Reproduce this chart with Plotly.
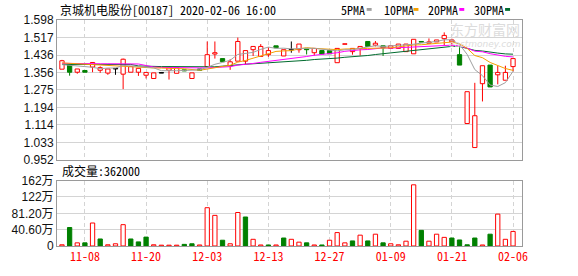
import plotly.graph_objects as go

# ---------------- data ----------------
tick_idx = [3, 11, 19, 27, 35, 43, 51, 59]
tick_labels = ["11-08", "11-20", "12-03", "12-13", "12-27", "01-09", "01-21", "02-06"]

opens = [1.371, 1.394, 1.357, 1.365, 1.381, 1.366, 1.353, 1.372, 1.348, 1.357,
         1.357, 1.343, 1.328, 1.353, 1.366, 1.352, 1.368, 1.328, 1.372, 1.383,
         1.441, 1.420, 1.387, 1.408, 1.408, 1.461, 1.430, 1.438, 1.479, 1.432,
         1.460, 1.461, 1.464, 1.447, 1.457, 1.457, 1.401, 1.486, 1.452, 1.467,
         1.499, 1.482, 1.479, 1.467, 1.467, 1.452, 1.442, 1.499, 1.491, 1.497,
         1.512, 1.497, 1.438, 1.120, 1.009, 1.304, 1.390, 1.345, 1.320, 1.383]
highs = [1.414, 1.396, 1.372, 1.365, 1.402, 1.384, 1.372, 1.372, 1.420, 1.383,
         1.375, 1.356, 1.354, 1.353, 1.383, 1.378, 1.368, 1.354, 1.372, 1.499,
         1.499, 1.420, 1.417, 1.517, 1.457, 1.476, 1.487, 1.472, 1.479, 1.461,
         1.499, 1.487, 1.464, 1.467, 1.457, 1.457, 1.467, 1.487, 1.467, 1.476,
         1.499, 1.501, 1.479, 1.479, 1.487, 1.487, 1.509, 1.499, 1.513, 1.506,
         1.541, 1.512, 1.472, 1.267, 1.308, 1.387, 1.390, 1.387, 1.387, 1.420]
lows = [1.371, 1.341, 1.350, 1.357, 1.357, 1.354, 1.345, 1.345, 1.279, 1.357,
        1.340, 1.328, 1.328, 1.353, 1.323, 1.352, 1.363, 1.328, 1.366, 1.383,
        1.420, 1.406, 1.368, 1.408, 1.393, 1.432, 1.430, 1.428, 1.470, 1.432,
        1.447, 1.447, 1.439, 1.434, 1.441, 1.442, 1.401, 1.486, 1.438, 1.434,
        1.476, 1.476, 1.432, 1.467, 1.467, 1.452, 1.442, 1.496, 1.491, 1.497,
        1.482, 1.476, 1.390, 1.120, 1.009, 1.222, 1.289, 1.301, 1.320, 1.361]
closes = [1.410, 1.357, 1.372, 1.357, 1.402, 1.378, 1.372, 1.372, 1.417, 1.383,
          1.375, 1.356, 1.354, 1.353, 1.378, 1.378, 1.363, 1.354, 1.366, 1.438,
          1.447, 1.406, 1.405, 1.499, 1.457, 1.476, 1.476, 1.457, 1.470, 1.461,
          1.460, 1.487, 1.461, 1.467, 1.441, 1.442, 1.467, 1.487, 1.467, 1.476,
          1.476, 1.491, 1.470, 1.479, 1.487, 1.487, 1.509, 1.496, 1.497, 1.506,
          1.527, 1.506, 1.390, 1.267, 1.156, 1.387, 1.289, 1.356, 1.356, 1.420]
volumes = [30000, 459000, 78000, 78000, 571000, 174000, 30000, 55000, 530000, 174000,
           102000, 221000, 30000, 20000, 20000, 20000, 40000, 55000, 25000, 951000,
           761000, 143000, 55000, 832000, 720000, 166000, 25000, 25000, 25000, 198000,
           166000, 95000, 78000, 25000, 25000, 143000, 333000, 78000, 126000, 269000,
           126000, 293000, 78000, 55000, 30000, 119000, 1520000, 388000, 119000, 293000,
           214000, 198000, 150000, 30000, 198000, 25000, 293000, 792000, 166000, 362000]
vol_up = [1, 0, 1, 0, 1, 0, 1, 1, 1, 0,
          0, 0, 1, 1, 1, 1, 0, 0, 1, 1,
          1, 0, 1, 1, 0, 1, 1, 0, 1, 0,
          1, 1, 0, 1, 0, 1, 1, 1, 0, 1,
          0, 1, 0, 1, 1, 1, 1, 0, 1, 1,
          1, 0, 0, 0, 0, 1, 0, 1, 1, 1]
# moving-average values before a full window is available inside the chart
ma5_head = [1.392, 1.390, 1.387, 1.383]
ma10_head = [1.400, 1.398, 1.395, 1.392, 1.390, 1.388, 1.386, 1.384, 1.383]
ma20_head = [1.398, 1.397, 1.397, 1.396, 1.396, 1.396, 1.396, 1.396, 1.396, 1.396,
             1.395, 1.388, 1.381, 1.379, 1.378, 1.378, 1.377, 1.377, 1.377]
ma30_head = [1.393, 1.393, 1.393, 1.393, 1.393, 1.393, 1.393, 1.393, 1.393, 1.393,
             1.386, 1.384, 1.384, 1.383, 1.383, 1.383, 1.382, 1.382, 1.382, 1.381,
             1.382, 1.385, 1.389, 1.392, 1.394, 1.396, 1.398, 1.400, 1.402]
price_ticks = [0.952, 1.033, 1.114, 1.194, 1.275, 1.356, 1.436, 1.517, 1.598]
vol_ticks = [0, 406000, 812000, 1218000, 1624000]
vol_tick_labels = ["0", "40.60万", "81.20万", "122万", "162万"]

# ---------------- styling / geometry ----------------
RED, GREEN, BLACK = "#ff0000", "#008000", "#000000"
MA_COLORS = {"5PMA": "#a0a0a0", "10PMA": "#f5a000", "20PMA": "#ff00ff", "30PMA": "#006b2e"}
MONO = "Noto Sans Mono CJK SC, Noto Sans CJK SC, DejaVu Sans Mono, monospace"
SANS = "Liberation Sans, Arial, Noto Sans CJK SC, sans-serif"
GRID = "#d4d4d4"
FRAME = "#9a9a9a"

PL, PR, PT, PB = 55, 522, 20, 255
def fx(x):
    return (x - PL) / (PR - PL)
def fy(y):
    return (PB - y) / (PB - PT)

n = len(closes)
idx = list(range(n))


def ma(period, head):
    out = list(head)
    for i in range(len(head), n):
        w = closes[i - period + 1:i + 1]
        out.append(sum(w) / period)
    return out

mas = {"5PMA": ma(5, ma5_head), "10PMA": ma(10, ma10_head),
       "20PMA": ma(20, ma20_head), "30PMA": ma(30, ma30_head)}

fig = go.Figure()

# candle bodies
body_base, body_h, fills, lines = [], [], [], []
for o, c in zip(opens, closes):
    lo, hi = min(o, c), max(o, c)
    body_base.append(lo)
    body_h.append(max(hi - lo, 0.0025))
    if c > o:
        fills.append("white"); lines.append(RED)
    elif c < o:
        fills.append(GREEN); lines.append(GREEN)
    else:
        fills.append(BLACK); lines.append(BLACK)

fig.add_trace(go.Bar(x=idx, y=body_h, base=body_base, width=0.56,
                     marker=dict(color=fills, line=dict(color=lines, width=1)),
                     xaxis="x", yaxis="y", hoverinfo="skip"))

# volume bars
vfill = ["white" if u else GREEN for u in vol_up]
vline = [RED if u else GREEN for u in vol_up]
fig.add_trace(go.Bar(x=idx, y=volumes, width=0.56,
                     marker=dict(color=vfill, line=dict(color=vline, width=1)),
                     xaxis="x2", yaxis="y2", hoverinfo="skip"))

# wicks (outside the bodies)
for col in (RED, GREEN, BLACK):
    wx, wy = [], []
    for i in idx:
        if lines[i] != col:
            continue
        top = max(opens[i], closes[i])
        bot = min(opens[i], closes[i])
        if highs[i] > top:
            wx += [i, i, None]; wy += [highs[i], top, None]
        if lows[i] < bot:
            wx += [i, i, None]; wy += [bot, lows[i], None]
    fig.add_trace(go.Scatter(x=wx, y=wy, mode="lines", line=dict(color=col, width=1),
                             xaxis="x", yaxis="y", hoverinfo="skip"))

# moving averages
for name in ["30PMA", "20PMA", "10PMA", "5PMA"]:
    fig.add_trace(go.Scatter(x=idx, y=mas[name], mode="lines",
                             line=dict(color=MA_COLORS[name], width=1),
                             xaxis="x", yaxis="y", hoverinfo="skip"))

xr = [-(60 - PL) / 7.678, 59 + (PR - 513) / 7.678]
common_x = dict(range=xr, tickmode="array", tickvals=tick_idx, ticktext=tick_labels,
                showgrid=True, gridcolor=GRID, griddash="4px,3px", gridwidth=1,
                showline=True, linecolor=FRAME, linewidth=1, mirror=True,
                ticks="", zeroline=False, fixedrange=True)
common_y = dict(showgrid=True, gridcolor=GRID, gridwidth=1, showline=True,
                linecolor=FRAME, linewidth=1, mirror=True, ticks="", zeroline=False,
                tickfont=dict(family=SANS, size=12, color="#111"), fixedrange=True)

fig.update_layout(
    width=578, height=276,
    margin=dict(l=PL, r=578 - PR, t=PT, b=276 - PB, pad=0),
    paper_bgcolor="white", plot_bgcolor="white",
    showlegend=False, barmode="overlay",
    xaxis=dict(domain=[0, 1], anchor="y", showticklabels=False, **common_x),
    yaxis=dict(domain=[fy(165.5), 1], anchor="x", range=[0.9518, 1.5982],
               tickmode="array", tickvals=price_ticks,
               ticktext=["%.3f" % v for v in price_ticks], **common_y),
    xaxis2=dict(domain=[0, 1], anchor="y2", matches="x", showticklabels=True,
                tickfont=dict(family=MONO, size=12, color=RED), **common_x),
    yaxis2=dict(domain=[0, fy(187)], anchor="x2", range=[-300, 1624800],
                tickmode="array", tickvals=vol_ticks, ticktext=vol_tick_labels, **common_y),
)

ann = []
# title
ann.append(dict(text="京城机电股份[00187] 2020-02-06 16:00", x=fx(56), y=fy(9),
                xref="paper", yref="paper", xanchor="left", yanchor="middle",
                showarrow=False, font=dict(family=MONO, size=12, color="#000")))
# legend
shapes = []
leg_pos = [("5PMA", 338, 366), ("10PMA", 381, 413), ("20PMA", 426, 459), ("30PMA", 472, 505)]
for name, tx, sx in leg_pos:
    ann.append(dict(text=name, x=fx(tx), y=fy(9), xref="paper", yref="paper",
                    xanchor="left", yanchor="middle", showarrow=False,
                    font=dict(family=MONO, size=12, color="#000")))
    shapes.append(dict(type="rect", xref="paper", yref="paper",
                       x0=fx(sx), x1=fx(sx + 5), y0=fy(10.5), y1=fy(7.5),
                       fillcolor=MA_COLORS[name], line=dict(width=0)))
# volume caption
ann.append(dict(text="成交量:362000", x=fx(58), y=fy(177), xref="paper", yref="paper",
                xanchor="left", yanchor="middle", showarrow=False,
                font=dict(family=MONO, size=12, color="#000")))
# watermark
ann.append(dict(text="东方财富网", x=fx(522), y=fy(29), xref="paper", yref="paper",
                xanchor="right", yanchor="middle", showarrow=False,
                font=dict(family="Noto Sans CJK SC", size=14, color="#dcdcdc")))
ann.append(dict(text="<i>eastmoney.com</i>", x=fx(523), y=fy(44.5), xref="paper", yref="paper",
                xanchor="right", yanchor="middle", showarrow=False,
                font=dict(family="DejaVu Sans", size=9, color="#dcdcdc")))

fig.update_layout(annotations=ann, shapes=shapes)
fig.write_html("out.html")
